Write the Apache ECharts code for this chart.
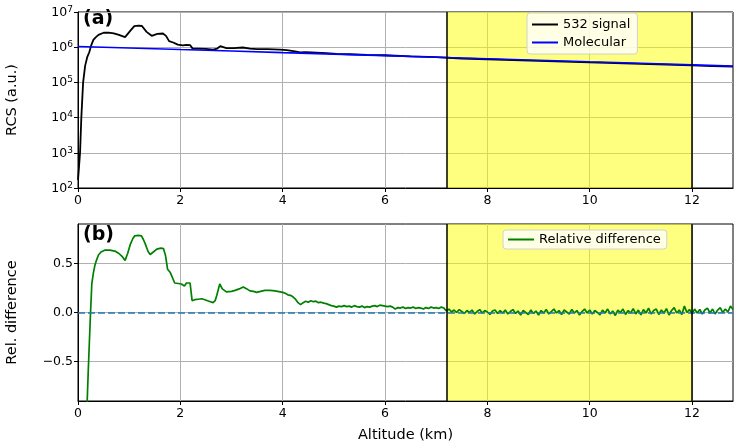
<!DOCTYPE html>
<html>
<head>
<meta charset="utf-8">
<script src="https://cdn.jsdelivr.net/npm/echarts@6/dist/echarts.min.js"></script>
<style>html,body{margin:0;padding:0;background:#fff}#c{width:737px;height:443px}</style>
</head>
<body>
<div id="c"></div>
<script>
// ---------------- data ----------------
const xTicks = [0, 2, 4, 6, 8, 10, 12];
const relTicks = [-0.5, 0, 0.5];
const bandStart = 7.2, bandEnd = 12;

const sigAlt = [0.00,0.02,0.04,0.065,0.10,0.14,0.18,0.22,0.26,0.30,0.35,0.40,0.50,0.60,0.70,0.80,0.92,1.02,1.10,1.18,1.25,1.34,1.44,1.55,1.66,1.72,1.78,1.86,1.95,2.05,2.12,2.19,2.24,2.35,2.50,2.64,2.72,2.78,2.90,3.05,3.22,3.36,3.50,3.70,3.95,4.08,4.24,4.34,4.45,4.66,4.85,5.05,5.30,5.65,6.0,6.5,7.0,7.5,8.0,8.5,9.0,9.5,10.0,10.5,11.0,11.5,12.0,12.4,12.8];
const sigVal = [170,400,1000,1e4,1e5,3e5,5.2e5,7.2e5,1.15e6,1.62e6,1.93e6,2.23e6,2.57e6,2.61e6,2.48e6,2.25e6,1.94e6,2.91e6,3.98e6,4.13e6,4.0e6,2.73e6,2.11e6,2.38e6,2.45e6,2.1e6,1.49e6,1.36e6,1.18e6,1.13e6,1.16e6,1.15e6,0.91e6,0.915e6,0.895e6,0.853e6,0.918e6,1.07e6,0.947e6,0.945e6,0.98e6,0.916e6,0.887e6,0.886e6,0.853e6,0.821e6,0.765e6,0.708e6,0.72e6,0.705e6,0.68e6,0.642e6,0.63e6,0.605e6,0.59e6,0.55e6,0.52e6,0.477e6,0.454e6,0.429e6,0.411e6,0.39e6,0.37e6,0.352e6,0.336e6,0.32e6,0.305e6,0.291e6,0.28e6];

const molAlt = [0,1,2,3,4,5,6,7,8,9,10,11,12,12.8];
const molVal = [1.05e6,0.95e6,0.86e6,0.78e6,0.70e6,0.635e6,0.575e6,0.52e6,0.47e6,0.425e6,0.385e6,0.35e6,0.315e6,0.29e6];

const relAlt = [0.16,0.18,0.20,0.22,0.245,0.27,0.30,0.33,0.36,0.40,0.45,0.53,0.62,0.72,0.80,0.87,0.92,0.97,1.02,1.07,1.11,1.18,1.24,1.28,1.32,1.37,1.41,1.46,1.54,1.62,1.67,1.71,1.75,1.80,1.83,1.89,1.96,2.02,2.08,2.12,2.19,2.23,2.28,2.35,2.42,2.48,2.56,2.64,2.68,2.71,2.77,2.82,2.90,3.00,3.07,3.15,3.23,3.30,3.36,3.43,3.49,3.57,3.65,3.75,3.85,3.95];
const relVal = [-1.4,-0.9,-0.6,-0.33,0.0,0.29,0.40,0.48,0.53,0.585,0.615,0.635,0.635,0.625,0.60,0.565,0.53,0.60,0.69,0.75,0.78,0.785,0.78,0.74,0.69,0.62,0.59,0.61,0.645,0.655,0.65,0.58,0.44,0.41,0.39,0.30,0.295,0.29,0.27,0.30,0.30,0.12,0.13,0.135,0.14,0.13,0.115,0.10,0.12,0.17,0.29,0.24,0.21,0.215,0.225,0.24,0.26,0.24,0.22,0.215,0.205,0.215,0.225,0.225,0.22,0.21];

// sampled every 0.05 km from 4.00 km to 12.80 km
const relNoiseStart = 4.0, relNoiseStep = 0.05;
const relNoise = [0.205,0.195,0.18,0.175,0.16,0.135,0.10,0.08,0.10,0.115,0.105,0.12,0.11,0.115,0.10,0.105,0.095,0.09,0.08,0.07,
0.065,0.055,0.065,0.06,0.07,0.06,0.065,0.055,0.07,0.06,0.055,0.065,0.05,0.06,0.055,0.065,0.07,0.06,0.075,0.07,
0.065,0.06,0.065,0.055,0.035,0.05,0.045,0.055,0.04,0.05,0.045,0.055,0.04,0.05,0.045,0.035,0.05,0.04,0.055,0.045,
0.05,0.04,0.055,0.045,0.015,0.035,0.005,0.025,0.0,0.03,0.01,-0.01,0.02,0.0,0.025,-0.015,0.01,0.03,-0.005,0.02,
0.005,-0.02,0.015,0.025,-0.01,0.02,-0.005,0.025,-0.015,0.01,0.03,-0.01,0.015,-0.025,0.02,0.0,-0.02,0.025,-0.01,0.015,
-0.025,0.02,-0.005,0.03,-0.015,0.01,0.035,-0.005,0.02,-0.02,0.025,0.005,-0.015,0.03,-0.005,0.02,-0.025,0.01,0.035,-0.005,
0.025,-0.015,0.02,0.0,-0.025,0.025,-0.005,0.035,-0.015,0.015,-0.03,0.025,0.0,0.035,-0.02,0.02,-0.005,0.04,-0.015,0.025,
-0.025,0.03,-0.005,0.045,-0.015,0.02,0.035,-0.02,0.025,-0.005,0.04,-0.025,0.02,0.05,-0.005,0.025,-0.02,0.065,0.0,0.03,
-0.015,0.035,-0.005,0.03,-0.015,0.025,0.045,-0.005,0.035,-0.015,0.025,0.05,0.0,0.035,0.005,0.065,0.03];

// ---------------- build ----------------
const zip = (a, b) => a.map((x, i) => [x, b[i]]);
const sigData = zip(sigAlt, sigVal);
const molData = zip(molAlt, molVal);
const relData = zip(relAlt, relVal).concat(
  relNoise.map((v, i) => [+(relNoiseStart + i * relNoiseStep).toFixed(2), v]));

const FONT = 'DejaVu Sans';
const axisText = {color: '#000', fontFamily: FONT, fontSize: 12.5};
const nameText = {color: '#000', fontFamily: FONT, fontSize: 14.5};
const gridLine = {show: true, lineStyle: {color: '#b0b0b0', width: 1}};
const tick = {show: true, inside: false, length: 4, lineStyle: {color: '#000', width: 1}};

function xAxis(idx, withName) {
  return {
    type: 'value', gridIndex: idx, min: 0, max: 12.8,
    axisLine: {show: true, onZero: false, lineStyle: {color: '#000'}},
    axisTick: Object.assign({customValues: xTicks}, tick),
    axisLabel: Object.assign({customValues: xTicks, margin: 6}, axisText),
    splitLine: gridLine,
    name: withName ? 'Altitude (km)' : '',
    nameLocation: 'middle', nameGap: 27,
    nameTextStyle: nameText
  };
}

const band = {
  silent: true,
  itemStyle: {color: 'rgba(255,255,0,0.5)'},
  data: [[{xAxis: bandStart}, {xAxis: bandEnd}]]
};
const bandLines = {
  silent: true, symbol: 'none', label: {show: false},
  lineStyle: {color: '#000', width: 1.5, type: 'solid'},
  data: [{xAxis: bandStart}, {xAxis: bandEnd}]
};

const option = {
  animation: false,
  backgroundColor: '#fff',
  grid: [
    {left: 78, top: 12, width: 655, height: 176, outerBoundsMode: 'none', containLabel: false,
     show: true, borderColor: '#000', borderWidth: 1, backgroundColor: 'transparent'},
    {left: 78, top: 224, width: 655, height: 177, outerBoundsMode: 'none', containLabel: false,
     show: true, borderColor: '#000', borderWidth: 1, backgroundColor: 'transparent'}
  ],
  xAxis: [xAxis(0, false), xAxis(1, true)],
  yAxis: [
    {
      type: 'log', logBase: 10, gridIndex: 0, min: 100, max: 1e7,
      axisLine: {show: true, lineStyle: {color: '#000'}},
      axisTick: tick,
      axisLabel: Object.assign({margin: 5,
        formatter: v => '{b|10}{s|' + Math.round(Math.log10(v)) + '}',
        rich: {
          b: {fontFamily: FONT, fontSize: 12.5, color: '#000', verticalAlign: 'bottom', lineHeight: 14},
          s: {fontFamily: FONT, fontSize: 9, color: '#000', verticalAlign: 'top', padding: [0, 0, 6, 0], lineHeight: 10}
        }}, axisText),
      splitLine: gridLine,
      name: 'RCS (a.u.)', nameLocation: 'middle', nameGap: 58,
      nameTextStyle: nameText
    },
    {
      type: 'value', gridIndex: 1, min: -0.9, max: 0.9,
      axisLine: {show: true, lineStyle: {color: '#000'}},
      axisTick: Object.assign({customValues: relTicks}, tick),
      axisLabel: Object.assign({customValues: relTicks, margin: 5,
        formatter: v => (v < 0 ? '\u2212' : '') + Math.abs(v).toFixed(1)}, axisText),
      splitLine: gridLine,
      name: 'Rel. difference', nameLocation: 'middle', nameGap: 58,
      nameTextStyle: nameText
    }
  ],
  legend: [
    {
      data: ['532 signal', 'Molecular'], orient: 'vertical', left: 527, top: 13,
      icon: 'rect', itemWidth: 26, itemHeight: 2, itemGap: 5,
      padding: [5, 7, 5, 5],
      backgroundColor: 'rgba(255,255,255,0.8)', borderColor: '#d0d0d0', borderWidth: 1, borderRadius: 3,
      textStyle: {color: '#000', fontFamily: FONT, fontSize: 13}
    },
    {
      data: ['Relative difference'], orient: 'vertical', left: 503, top: 230,
      icon: 'rect', itemWidth: 26, itemHeight: 2,
      padding: [3, 6, 3, 5],
      backgroundColor: 'rgba(255,255,255,0.8)', borderColor: '#d0d0d0', borderWidth: 1, borderRadius: 3,
      textStyle: {color: '#000', fontFamily: FONT, fontSize: 13}
    }
  ],
  graphic: [
    {type: 'text', left: 83, top: 10, style: {text: '(a)', fontFamily: FONT, fontWeight: 'bold', fontSize: 19, fill: '#000'}},
    {type: 'text', left: 83, top: 226, style: {text: '(b)', fontFamily: FONT, fontWeight: 'bold', fontSize: 19, fill: '#000'}}
  ],
  series: [
    {name: 'bandTop', type: 'line', xAxisIndex: 0, yAxisIndex: 0, data: [], z: 1, markArea: band},
    {name: '532 signal', type: 'line', xAxisIndex: 0, yAxisIndex: 0, data: sigData, showSymbol: false, symbol: 'none',
     lineStyle: {color: '#000', width: 1.8}, itemStyle: {color: '#000'}, z: 3},
    {name: 'Molecular', type: 'line', xAxisIndex: 0, yAxisIndex: 0, data: molData, showSymbol: false, symbol: 'none',
     lineStyle: {color: '#0000ff', width: 1.6}, itemStyle: {color: '#0000ff'}, z: 4},
    {name: 'linesTop', type: 'line', xAxisIndex: 0, yAxisIndex: 0, data: [], z: 5, markLine: bandLines},

    {name: 'bandBot', type: 'line', xAxisIndex: 1, yAxisIndex: 1, data: [], z: 1, markArea: band},
    {name: 'zero', type: 'line', xAxisIndex: 1, yAxisIndex: 1, data: [], z: 2,
     markLine: {silent: true, symbol: 'none', label: {show: false},
       lineStyle: {color: '#1f77b4', width: 1.5, type: [7, 3]}, data: [{yAxis: 0}]}},
    {name: 'Relative difference', type: 'line', xAxisIndex: 1, yAxisIndex: 1, data: relData, showSymbol: false, symbol: 'none',
     clip: true, lineStyle: {color: '#008000', width: 1.7}, itemStyle: {color: '#008000'}, z: 3},
    {name: 'linesBot', type: 'line', xAxisIndex: 1, yAxisIndex: 1, data: [], z: 5, markLine: bandLines}
  ]
};

const chart = echarts.init(document.getElementById('c'), null, {renderer: 'canvas'});
chart.setOption(option);
</script>
</body>
</html>
